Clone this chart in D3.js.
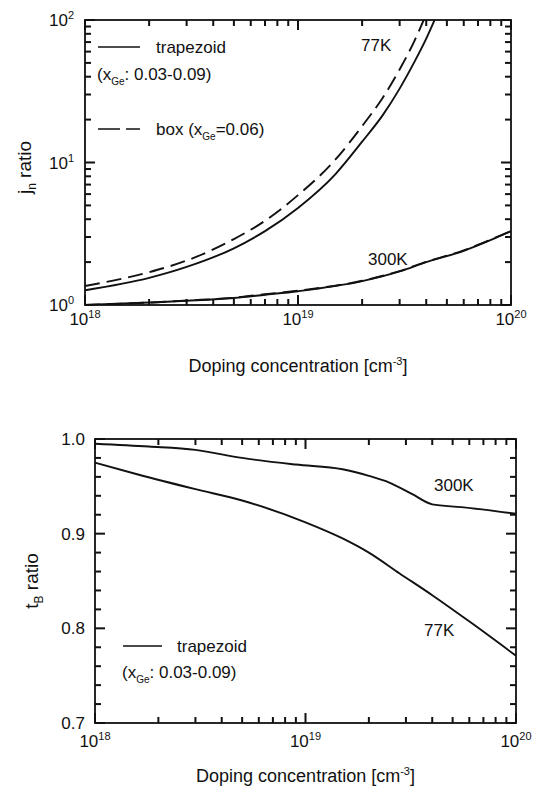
<!DOCTYPE html>
<html><head><meta charset="utf-8">
<script src="https://cdn.jsdelivr.net/npm/d3@7"></script>
<style>body{margin:0;background:#fff}svg{display:block}text{font-family:"Liberation Sans",Arial,sans-serif;fill:#111}</style>
</head><body><svg id="c" width="540" height="794" xmlns="http://www.w3.org/2000/svg"></svg>
<script>
// ---------- data ----------
const doping77Trap = [1e18, 2e18, 3e18, 5e18, 7e18, 1e19, 1.5e19, 2e19, 2.5e19, 3e19, 3.5e19, 4e19, 4.5e19];
const jn77Trap     = [1.27, 1.55, 1.85, 2.5, 3.3, 4.8, 8.3, 14, 21.5, 33, 50, 74, 110];
const doping77Box  = [1e18, 2e18, 3e18, 5e18, 7e18, 1e19, 1.5e19, 2e19, 2.5e19, 3e19, 3.5e19, 4e19];
const jn77Box      = [1.36, 1.7, 2.05, 2.9, 3.9, 5.9, 10.5, 18, 28.5, 45, 70, 110];
const doping300    = [1e18, 2e18, 3e18, 5e18, 7e18, 1e19, 2e19, 3e19, 4e19, 6e19, 8e19, 1e20];
const jn300Trap    = [1.0, 1.04, 1.07, 1.12, 1.18, 1.25, 1.47, 1.72, 2.0, 2.4, 2.85, 3.3];
const jn300Box     = [1.0, 1.04, 1.075, 1.125, 1.19, 1.26, 1.48, 1.73, 2.01, 2.42, 2.87, 3.3];

const dopingTb300 = [1e18, 1.8e18, 3e18, 5e18, 9e18, 1.5e19, 2e19, 2.5e19, 3.2e19, 4e19, 5.5e19, 1e20];
const tb300       = [0.995, 0.992, 0.9885, 0.980, 0.973, 0.968, 0.961, 0.954, 0.942, 0.931, 0.928, 0.921];
const dopingTb77  = [1e18, 1.6e18, 3e18, 5e18, 1e19, 1.5e19, 2e19, 2.8e19, 4e19, 6.2e19, 1e20];
const tb77        = [0.975, 0.9625, 0.947, 0.935, 0.912, 0.895, 0.880, 0.858, 0.835, 0.805, 0.771];

const xExp = [18, 19, 20];
const yExpTop = [0, 1, 2];
const yTicksBottom = [0.7, 0.8, 0.9, 1.0];

// ---------- helpers ----------
const svg = d3.select("#c");
const INK = "#111";

function logMinor(lo, hi) {
  const out = [];
  for (let e = lo; e < hi; e++) for (let m = 2; m <= 9; m++) out.push(m * Math.pow(10, e));
  return out;
}

function frame(g, x, y, majX, minX, majY, minY) {
  const xr = x.range(), yr = y.range();
  const x0 = xr[0], x1 = xr[1], yB = yr[0], yT = yr[1];
  const tw = 2; // tick thickness
  const boxes = [];
  const vx = (v, len) => {
    boxes.push([x(v) - tw / 2, yB - len, tw, len]);
    boxes.push([x(v) - tw / 2, yT, tw, len]);
  };
  const hy = (v, len) => {
    boxes.push([x0, y(v) - tw / 2, len, tw]);
    boxes.push([x1 - len, y(v) - tw / 2, len, tw]);
  };
  majX.forEach(v => vx(v, 10)); minX.forEach(v => vx(v, 6));
  majY.forEach(v => hy(v, 10)); minY.forEach(v => hy(v, 6));
  g.append("g").selectAll("rect").data(boxes).join("rect")
    .attr("x", d => d[0]).attr("y", d => d[1]).attr("width", d => d[2]).attr("height", d => d[3])
    .attr("fill", INK);
  g.append("rect").attr("x", x0).attr("y", yT).attr("width", x1 - x0).attr("height", yB - yT)
    .attr("fill", "none").attr("stroke", INK).attr("stroke-width", 1.8);
}

function powLabel(g, x, y, base, exp, anchor) {
  const t = g.append("text").attr("x", x).attr("y", y).attr("text-anchor", anchor || "middle")
    .style("font-size", "17px");
  t.append("tspan").text(base);
  t.append("tspan").attr("dy", -7).style("font-size", "11px").text(exp);
}

function geLabel(g, x, y, pre, post) {
  const t = g.append("text").attr("x", x).attr("y", y).style("font-size", "17px");
  t.append("tspan").text(pre + "x");
  t.append("tspan").attr("dy", 5).style("font-size", "10px").text("Ge");
  t.append("tspan").attr("dy", -5).text(post);
}

function xTitle(g, cx, y) {
  const t = g.append("text").attr("x", cx).attr("y", y).attr("text-anchor", "middle").style("font-size", "18px");
  t.append("tspan").text("Doping concentration [cm");
  t.append("tspan").attr("dy", -7).style("font-size", "11px").text("-3");
  t.append("tspan").attr("dy", 7).text("]");
}

// ---------- top chart ----------
{
  const L = 85, R = 511, T = 20, B = 305;
  const x = d3.scaleLog().domain([1e18, 1e20]).range([L, R]);
  const y = d3.scaleLog().domain([1, 100]).range([B, T]);
  const g = svg.append("g");
  svg.append("clipPath").attr("id", "clipTop").append("rect").attr("x", L).attr("y", T).attr("width", R - L).attr("height", B - T);

  const line = d3.line().x(d => x(d[0])).y(d => y(d[1])).curve(d3.curveMonotoneX);
  const cg = g.append("g").attr("clip-path", "url(#clipTop)");
  const draw = (xs, ys, dash) => cg.append("path").datum(xs.map((v, i) => [v, ys[i]]))
    .attr("d", line).attr("fill", "none").attr("stroke", INK).attr("stroke-width", 1.9)
    .attr("stroke-dasharray", dash || null);
  draw(doping77Trap, jn77Trap);
  draw(doping77Box, jn77Box, "15,7");
  draw(doping300, jn300Trap);
  draw(doping300, jn300Box, "15,7");

  frame(g, x, y, xExp.map(e => Math.pow(10, e)), logMinor(18, 20),
        yExpTop.map(e => Math.pow(10, e)), logMinor(0, 2));

  xExp.forEach(e => powLabel(g, x(Math.pow(10, e)), B + 20, "10", e));
  yExpTop.forEach(e => powLabel(g, L - 11, y(Math.pow(10, e)) + 6, "10", e, "end"));

  xTitle(g, (L + R) / 2, 372);
  const yl = g.append("text").attr("transform", `translate(31,${(T + B) / 2 + 5}) rotate(-90)`)
    .attr("text-anchor", "middle").style("font-size", "19px");
  yl.append("tspan").text("j");
  yl.append("tspan").attr("dy", 5).style("font-size", "12px").text("n");
  yl.append("tspan").attr("dy", -5).text(" ratio");

  // legend
  g.append("line").attr("x1", 98).attr("x2", 140).attr("y1", 47).attr("y2", 47).attr("stroke", INK).attr("stroke-width", 1.6);
  g.append("text").attr("x", 156).attr("y", 53).style("font-size", "17px").text("trapezoid");
  geLabel(g, 97, 80, "(", ": 0.03-0.09)");
  g.append("line").attr("x1", 98).attr("x2", 140).attr("y1", 129).attr("y2", 129).attr("stroke", INK).attr("stroke-width", 1.6).attr("stroke-dasharray", "22,6");
  geLabel(g, 156, 135, "box (", "=0.06)");

  g.append("text").attr("x", 361).attr("y", 51).style("font-size", "17px").text("77K");
  g.append("text").attr("x", 368).attr("y", 265).style("font-size", "17px").text("300K");
}

// ---------- bottom chart ----------
{
  const L = 95, R = 516, T = 439, B = 723;
  const x = d3.scaleLog().domain([1e18, 1e20]).range([L, R]);
  const y = d3.scaleLinear().domain([0.7, 1.0]).range([B, T]);
  const g = svg.append("g");
  svg.append("clipPath").attr("id", "clipBot").append("rect").attr("x", L).attr("y", T).attr("width", R - L).attr("height", B - T);

  const line = d3.line().x(d => x(d[0])).y(d => y(d[1])).curve(d3.curveMonotoneX);
  const cg = g.append("g").attr("clip-path", "url(#clipBot)");
  const draw = (xs, ys) => cg.append("path").datum(xs.map((v, i) => [v, ys[i]]))
    .attr("d", line).attr("fill", "none").attr("stroke", INK).attr("stroke-width", 1.9);
  draw(dopingTb300, tb300);
  draw(dopingTb77, tb77);

  const minorY = [0.72, 0.74, 0.76, 0.78, 0.82, 0.84, 0.86, 0.88, 0.92, 0.94, 0.96, 0.98];
  frame(g, x, y, xExp.map(e => Math.pow(10, e)), logMinor(18, 20), yTicksBottom, minorY);

  xExp.forEach(e => powLabel(g, x(Math.pow(10, e)), B + 24, "10", e));
  yTicksBottom.forEach(v => g.append("text").attr("x", L - 10).attr("y", y(v) + 6)
    .attr("text-anchor", "end").style("font-size", "17px").text(d3.format(".1f")(v)));

  xTitle(g, (L + R) / 2, 782);
  const yl = g.append("text").attr("transform", `translate(38,${(T + B) / 2}) rotate(-90)`)
    .attr("text-anchor", "middle").style("font-size", "19px");
  yl.append("tspan").text("t");
  yl.append("tspan").attr("dy", 5).style("font-size", "12px").text("B");
  yl.append("tspan").attr("dy", -5).text(" ratio");

  g.append("line").attr("x1", 123).attr("x2", 162).attr("y1", 646).attr("y2", 646).attr("stroke", INK).attr("stroke-width", 1.6);
  g.append("text").attr("x", 177).attr("y", 652).style("font-size", "17px").text("trapezoid");
  geLabel(g, 122, 678, "(", ": 0.03-0.09)");

  g.append("text").attr("x", 434).attr("y", 491).style("font-size", "17px").text("300K");
  g.append("text").attr("x", 424).attr("y", 636).style("font-size", "17px").text("77K");
}
</script></body></html>
